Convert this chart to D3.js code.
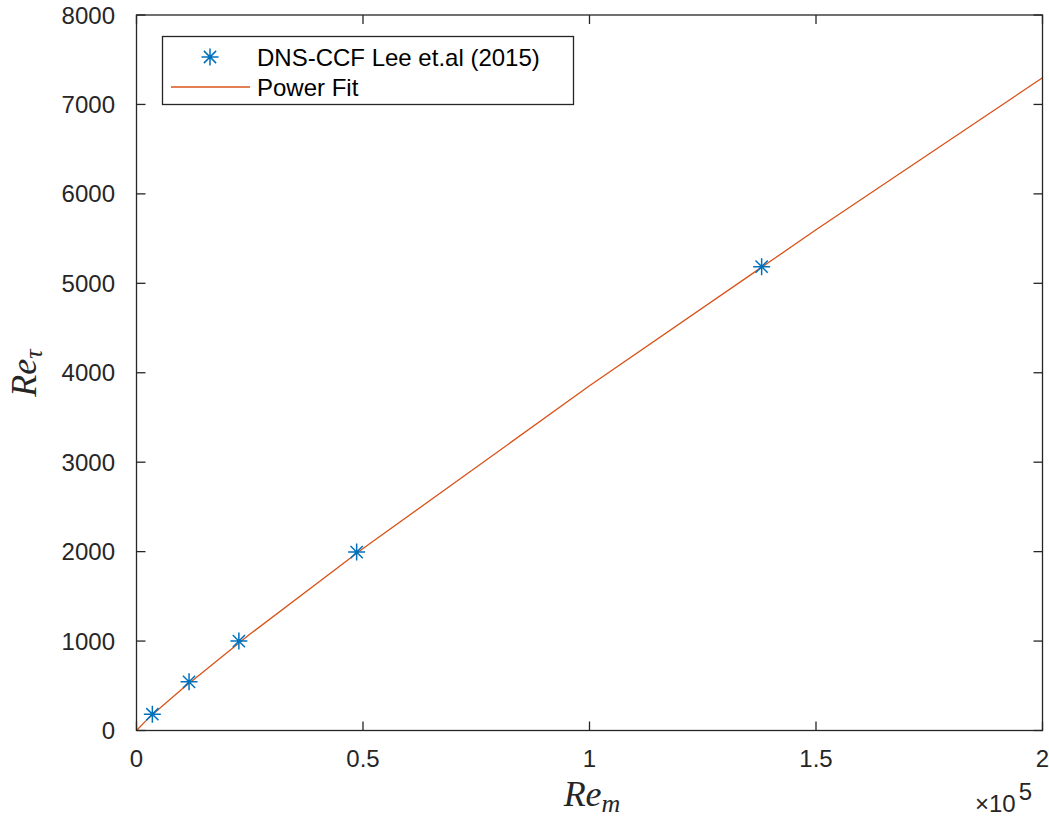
<!DOCTYPE html>
<html>
<head>
<meta charset="utf-8">
<script src="https://cdn.jsdelivr.net/npm/d3@7"></script>
<style>
  html, body { margin: 0; padding: 0; background: #fff; }
  svg text { font-family: "Liberation Sans", Arial, sans-serif; }
</style>
</head>
<body>
<svg id="chart" width="1049" height="823"></svg>
<script>
// DNS channel-flow data (Lee & Moser 2015): bulk Reynolds number vs friction Reynolds number
const reM   = [3500, 11600, 22600, 48600, 138000];
const reTau = [182, 544, 1000, 1995, 5186];

// Power-law fit curve, sampled
const fitReM  = [0, 2000, 5000, 10000, 25000, 50000, 100000, 150000, 200000];
const fitReTau = [0, 105, 244, 462, 1075, 2034, 3854, 5598, 7298];

const xTicks = [0, 50000, 100000, 150000, 200000];
const xTickLabels = ["0", "0.5", "1", "1.5", "2"];
const yTicks = [0, 1000, 2000, 3000, 4000, 5000, 6000, 7000, 8000];

const legendLabels = ["DNS-CCF Lee et.al (2015)", "Power Fit"];

const axisColor = "#262626";
const markerColor = "#0072BD";
const lineColor = "#D95319";

const svg = d3.select("#chart");
const padL = 136.5, padR = 1042.5, padT = 15, padB = 730.5;

const x = d3.scaleLinear().domain([0, 200000]).range([padL, padR]);
const y = d3.scaleLinear().domain([0, 8000]).range([padB, padT]);

const plot = svg.append("g");

// clip to axes
svg.append("clipPath").attr("id", "clip")
  .append("rect").attr("x", padL).attr("y", padT)
  .attr("width", padR - padL).attr("height", padB - padT);

// fit line
const fitData = fitReM.map((v, i) => [v, fitReTau[i]]);
plot.append("path")
  .datum(fitData)
  .attr("clip-path", "url(#clip)")
  .attr("fill", "none")
  .attr("stroke", lineColor)
  .attr("stroke-width", 1.3)
  .attr("d", d3.line().x(d => x(d[0])).y(d => y(d[1])));

// asterisk marker path
function asterisk(size) {
  const r = size / 2, d = r * 0.72;
  return `M${-r},0L${r},0M0,${-r}L0,${r}M${-d},${-d}L${d},${d}M${-d},${d}L${d},${-d}`;
}

plot.selectAll("path.pt")
  .data(reM.map((v, i) => [v, reTau[i]]))
  .join("path")
  .attr("class", "pt")
  .attr("transform", d => `translate(${x(d[0])},${y(d[1])})`)
  .attr("d", asterisk(17))
  .attr("fill", "none")
  .attr("stroke", markerColor)
  .attr("stroke-width", 1.5);

// axes box with inward ticks on all sides
const tickLen = 9;
const axes = svg.append("g").attr("stroke", axisColor).attr("stroke-width", 1.3).attr("fill", "none");
axes.append("rect").attr("x", padL).attr("y", padT)
  .attr("width", padR - padL).attr("height", padB - padT);

xTicks.forEach(t => {
  const px = x(t);
  axes.append("line").attr("x1", px).attr("x2", px).attr("y1", padB).attr("y2", padB - tickLen);
  axes.append("line").attr("x1", px).attr("x2", px).attr("y1", padT).attr("y2", padT + tickLen);
});
yTicks.forEach(t => {
  const py = y(t);
  axes.append("line").attr("x1", padL).attr("x2", padL + tickLen).attr("y1", py).attr("y2", py);
  axes.append("line").attr("x1", padR).attr("x2", padR - tickLen).attr("y1", py).attr("y2", py);
});

// tick labels
svg.append("g").selectAll("text")
  .data(xTicks)
  .join("text")
  .attr("x", d => x(d))
  .attr("y", 767)
  .attr("text-anchor", "middle")
  .attr("font-size", 24)
  .attr("fill", axisColor)
  .text((d, i) => xTickLabels[i]);

svg.append("g").selectAll("text")
  .data(yTicks)
  .join("text")
  .attr("x", 115)
  .attr("y", d => y(d) + 8.5)
  .attr("text-anchor", "end")
  .attr("font-size", 24)
  .attr("fill", axisColor)
  .text(d => d);

// exponent label
const expo = svg.append("text")
  .attr("x", 975).attr("y", 812)
  .attr("font-size", 24)
  .attr("fill", axisColor);
expo.append("tspan").text("\u00d710");
expo.append("tspan").attr("dx", 3).attr("dy", -12).attr("font-size", 24).text("5");

// axis titles (italic serif, math style)
const xl = svg.append("text")
  .attr("x", 592).attr("y", 806)
  .attr("text-anchor", "middle")
  .style("font-family", "'Liberation Serif', serif")
  .style("font-style", "italic")
  .attr("font-size", 36)
  .attr("fill", axisColor);
xl.append("tspan").text("Re");
xl.append("tspan").attr("dy", 6).attr("font-size", 26).text("m");

const yl = svg.append("text")
  .attr("transform", "translate(36,373) rotate(-90)")
  .attr("text-anchor", "middle")
  .style("font-family", "'Liberation Serif', serif")
  .style("font-style", "italic")
  .attr("font-size", 36)
  .attr("fill", axisColor);
yl.append("tspan").text("Re");
yl.append("tspan").attr("dy", 6).attr("font-size", 26).text("\u03c4");

// legend
const lg = svg.append("g");
lg.append("rect")
  .attr("x", 162.5).attr("y", 36.5).attr("width", 411).attr("height", 68)
  .attr("fill", "#fff").attr("stroke", axisColor).attr("stroke-width", 1.3);
lg.append("path")
  .attr("transform", "translate(210,57)")
  .attr("d", asterisk(17))
  .attr("fill", "none").attr("stroke", markerColor).attr("stroke-width", 1.5);
lg.append("line")
  .attr("x1", 171).attr("x2", 250).attr("y1", 87).attr("y2", 87)
  .attr("stroke", lineColor).attr("stroke-width", 1.3);
lg.selectAll("text.lab")
  .data(legendLabels)
  .join("text")
  .attr("class", "lab")
  .attr("x", 257)
  .attr("y", (d, i) => 66 + i * 30)
  .attr("font-size", 24)
  .attr("fill", "#000")
  .text(d => d);
</script>
</body>
</html>
